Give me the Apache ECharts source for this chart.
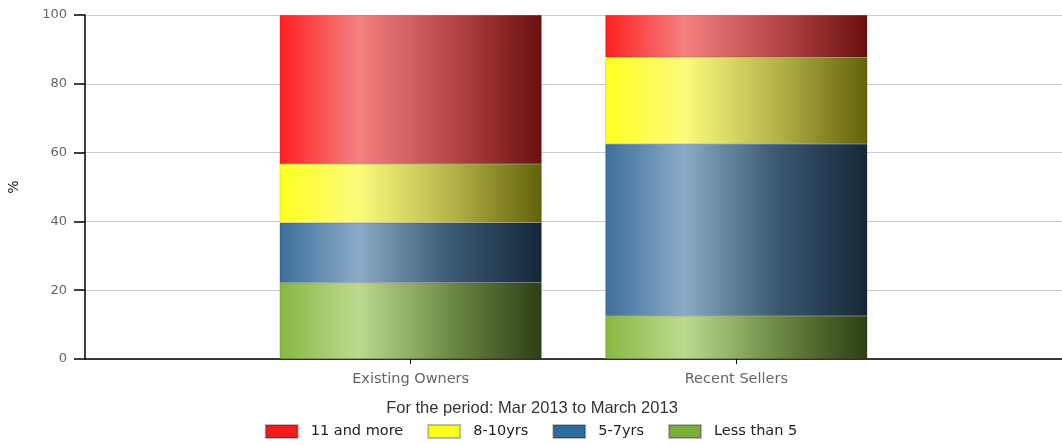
<!DOCTYPE html>
<html>
<head>
<meta charset="utf-8">
<script src="https://cdn.jsdelivr.net/npm/echarts@6/dist/echarts.min.js"></script>
<style>html,body{margin:0;padding:0;background:#fff;}#c{width:1062px;height:445px;}</style>
</head>
<body>
<div id="c"></div>
<script>
const categories = ['Existing Owners', 'Recent Sellers'];
const lessThan5 = [22.2, 12.5];
const yrs5to7 = [17.4, 50.0];
const yrs8to10 = [17.1, 25.2];
const elevenPlus = [43.3, 12.3];
const yTicks = [0, 20, 40, 60, 80, 100];
const subtitle = 'For the period: Mar 2013 to March 2013';

const axisCats = [''].concat(categories, ['']);
const pad = arr => [null].concat(arr, [null]);

function grad(c0, c1, c2, c3) {
  return new echarts.graphic.LinearGradient(0, 0, 1, 0, [
    {offset: 0, color: c0},
    {offset: 0.3, color: c1},
    {offset: 0.65, color: c2},
    {offset: 1, color: c3}
  ]);
}
const seriesDefs = [
  {name: 'Less than 5', data: lessThan5, solid: '#7cae3c', g: grad('#86b840', '#bcd98f', '#6f8a45', '#2c3f14')},
  {name: '5-7yrs', data: yrs5to7, solid: '#2f6b9c', g: grad('#3c6f9a', '#8aaac6', '#3c5a74', '#152838')},
  {name: '8-10yrs', data: yrs8to10, solid: '#ffff22', g: grad('#ffff20', '#fbfb7c', '#b6b44a', '#62620a')},
  {name: '11 and more', data: elevenPlus, solid: '#f21c1c', g: grad('#ff2020', '#f48080', '#b84848', '#6a1010')}
];

const chart = echarts.init(document.getElementById('c'), null, {renderer: 'canvas'});
chart.setOption({
  animation: false,
  backgroundColor: '#fff',
  title: {
    text: subtitle,
    left: 532, top: 400, textAlign: 'center', padding: 0,
    textStyle: {fontFamily: 'Liberation Sans', fontSize: 16.5, fontWeight: 'normal', color: '#333'}
  },
  legend: {
    top: 424, left: 'center', padding: 0,
    itemWidth: 32, itemHeight: 13, itemGap: 24,
    icon: 'rect',
    textStyle: {fontFamily: 'DejaVu Sans', fontSize: 14.5, color: '#222', padding: [0, 0, 0, 8]},
    data: [3, 2, 1, 0].map(i => ({name: seriesDefs[i].name, itemStyle: {color: seriesDefs[i].solid}}))
  },
  grid: {left: 85, right: 0, top: 15, bottom: 86, containLabel: false, outerBoundsMode: 'none'},
  xAxis: {
    type: 'category',
    data: axisCats,
    boundaryGap: false,
    axisLine: {lineStyle: {color: '#000', width: 1.5}},
    axisTick: {show: true, length: 5, lineStyle: {color: '#000'}, interval: (i, v) => v !== ''},
    axisLabel: {color: '#666', fontFamily: 'DejaVu Sans', fontSize: 14.5, margin: 13, interval: 0},
    splitLine: {show: false}
  },
  yAxis: {
    type: 'value', min: 0, max: 100, interval: 20,
    name: '%', nameLocation: 'middle', nameGap: 64,
    nameTextStyle: {color: '#222', fontFamily: 'DejaVu Sans', fontSize: 14},
    axisLine: {show: true, lineStyle: {color: '#000', width: 1.5}},
    axisTick: {show: true, length: 11, lineStyle: {color: '#000', width: 1.5}},
    axisLabel: {color: '#666', fontFamily: 'DejaVu Sans', fontSize: 13, margin: 18,
      formatter: v => yTicks.indexOf(v) >= 0 ? String(v) : ''},
    splitLine: {lineStyle: {color: '#ccc', width: 1}}
  },
  series: seriesDefs.map(s => ({
    name: s.name, type: 'bar', stack: 'total',
    barWidth: 262,
    data: pad(s.data),
    itemStyle: {color: s.g, borderColor: 'rgba(0,0,0,0.25)', borderWidth: 0.5},
    emphasis: {disabled: true}
  }))
});
</script>
</body>
</html>
